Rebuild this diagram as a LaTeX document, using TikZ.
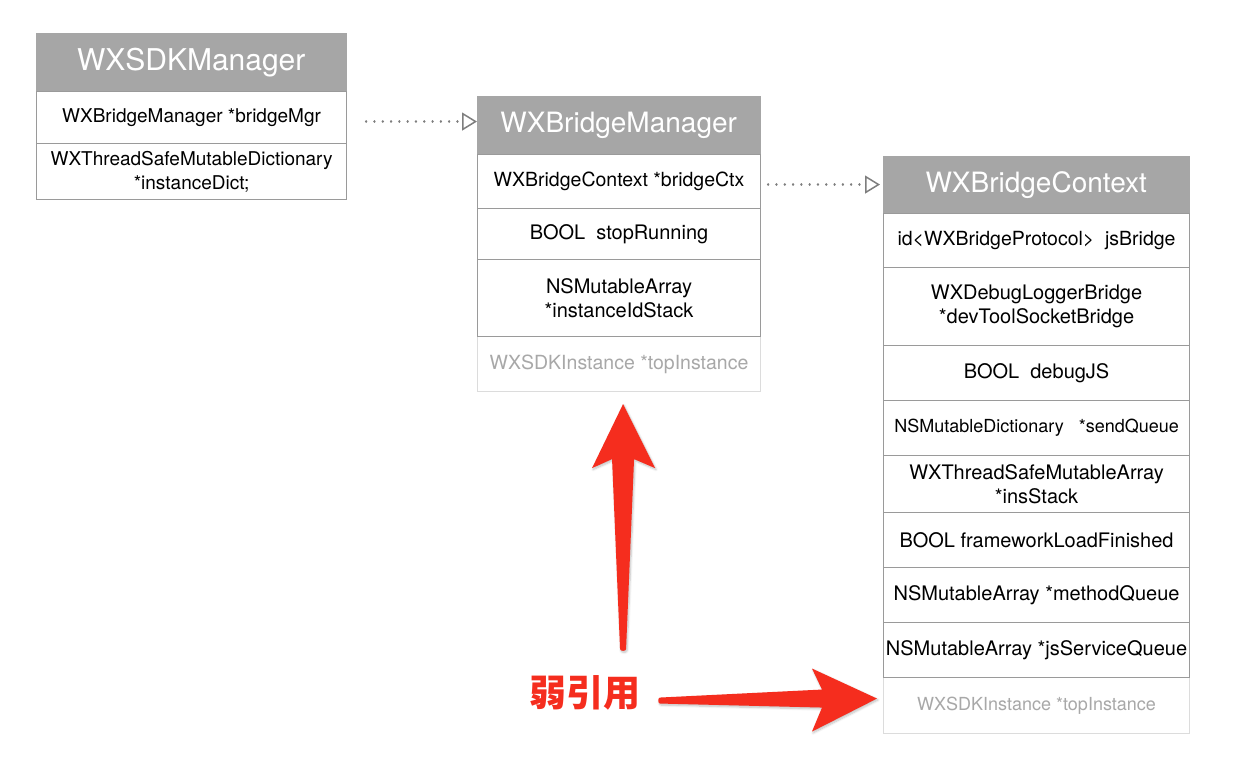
\documentclass[tikz,border=0pt]{standalone}
\usepackage{fontspec}
\setmainfont{TeX Gyre Heros}
\newfontfamily\cjk{Noto Sans CJK SC}
\usetikzlibrary{arrows.meta,positioning,calc,shadows.blur}
\definecolor{umlHead}{HTML}{A6A6A6}
\definecolor{umlLine}{HTML}{9A9A9A}
\definecolor{umlFaint}{HTML}{DCDCDC}
\definecolor{umlFaintText}{HTML}{A8A8A8}
\definecolor{umlDot}{HTML}{7E7E7E}
\definecolor{weakRed}{HTML}{F52D1E}
\tikzset{
  head/.style={fill=umlHead, draw=umlHead, text=white, anchor=north west,
              inner sep=0pt},
  field/.style={draw=umlLine, line width=1.1pt, fill=white, align=center,
              anchor=north west, inner sep=0pt},
  faint/.style={field, draw=umlFaint, text=umlFaintText},
  ref/.style={-{Triangle[open,length=15pt,width=18pt,line width=1.5pt]},
              draw=umlDot, line width=2.4pt, dash pattern=on 0.1pt off 8.2pt,
              line cap=round},
  weak/.style={fill=weakRed, blur shadow={shadow xshift=1pt, shadow yshift=-1.5pt,
              shadow opacity=25, shadow blur steps=6}},
  lbl/.style={text=weakRed, font=\cjk\bfseries\fontsize{37}{40}\selectfont},
}

\begin{document}
\begin{tikzpicture}[x=1pt,y=-1pt]
  \useasboundingbox (0,0) rectangle (1240,783);

  % WXSDKManager
  \node[head,minimum width=310,minimum height=58,font=\fontsize{30}{32}\selectfont]
    (mgr0) at (36,33) {WXSDKManager};
  \foreach \n/\y/\h/\fs/\txt in {1/91/52/19/{WXBridgeManager *bridgeMgr},
                                 2/143/56/19/{WXThreadSafeMutableDictionary\\*instanceDict;}}{
    \node[field,minimum width=310,minimum height=\h,font=\fontsize{\fs}{24}\selectfont]
      (mgr\n) at (36,\y) {\txt};
  }

  % WXBridgeManager
  \node[head,minimum width=283,minimum height=58,font=\fontsize{28}{30}\selectfont]
    (brg0) at (477,96) {WXBridgeManager};
  \node[faint,minimum width=283,minimum height=55,font=\fontsize{19.5}{24}\selectfont]
    (brg4) at (477,336) {WXSDKInstance *topInstance};
  \foreach \n/\y/\h/\fs/\txt in {1/154/54/19.5/{WXBridgeContext *bridgeCtx},
                                 2/208/51/20/{BOOL\ \ stopRunning},
                                 3/259/77/20/{NSMutableArray\\*instanceIdStack}}{
    \node[field,minimum width=283,minimum height=\h,font=\fontsize{\fs}{24}\selectfont]
      (brg\n) at (477,\y) {\txt};
  }

  % WXBridgeContext
  \node[head,minimum width=306,minimum height=57,font=\fontsize{28}{30}\selectfont]
    (ctx0) at (883,156) {WXBridgeContext};
  \node[faint,minimum width=306,minimum height=56,font=\fontsize{18}{24}\selectfont]
    (ctx9) at (883,677) {WXSDKInstance *topInstance};
  \foreach \n/\y/\h/\fs/\txt in {1/213/54/19.5/{id<WXBridgeProtocol>\ \ jsBridge},
                                 2/267/78/20/{WXDebugLoggerBridge\\*devToolSocketBridge},
                                 3/345/55/20/{BOOL\ \ debugJS},
                                 4/400/55/18/{NSMutableDictionary\ \ \ *sendQueue},
                                 5/455/57/20/{WXThreadSafeMutableArray\\*insStack},
                                 6/512/55/20/{BOOL frameworkLoadFinished},
                                 7/567/55/20/{NSMutableArray *methodQueue},
                                 8/622/55/20/{NSMutableArray *jsServiceQueue}}{
    \node[field,minimum width=306,minimum height=\h,font=\fontsize{\fs}{24}\selectfont]
      (ctx\n) at (883,\y) {\txt};
  }

  % references
  \coordinate (mgrRef) at ([xshift=19pt,yshift=-4pt]mgr1.east);
  \coordinate (brgRef) at ([xshift=7pt,yshift=-3pt]brg1.east);
  \draw[ref] (mgrRef) -- (mgrRef -| brg0.west);
  \draw[ref] (brgRef) -- ([xshift=-3pt]brgRef -| ctx0.west);

  % weak references
  \node[lbl] (weakLbl) at (585,693) {弱引用};
  \coordinate (vtip) at ($(brg4.south)+(4,12)$);
  \coordinate (htip) at ($(ctx9.west)+(-6,-7)$);
  \fill[weak] (vtip) -- ++(32,64) -- ++(-21,-9) -- ++(-8,190)
    to[out=-90,in=-90] ++(-6,0) -- ++(-8,-190) -- ++(-20,9) -- cycle;
  \fill[weak] (htip) -- ++(-65,-30) -- ++(10,21) -- ++(-162,8)
    to[out=180,in=180] ++(0,6) -- ++(162,4) -- ++(-10,24) -- cycle;
\end{tikzpicture}
\end{document}
